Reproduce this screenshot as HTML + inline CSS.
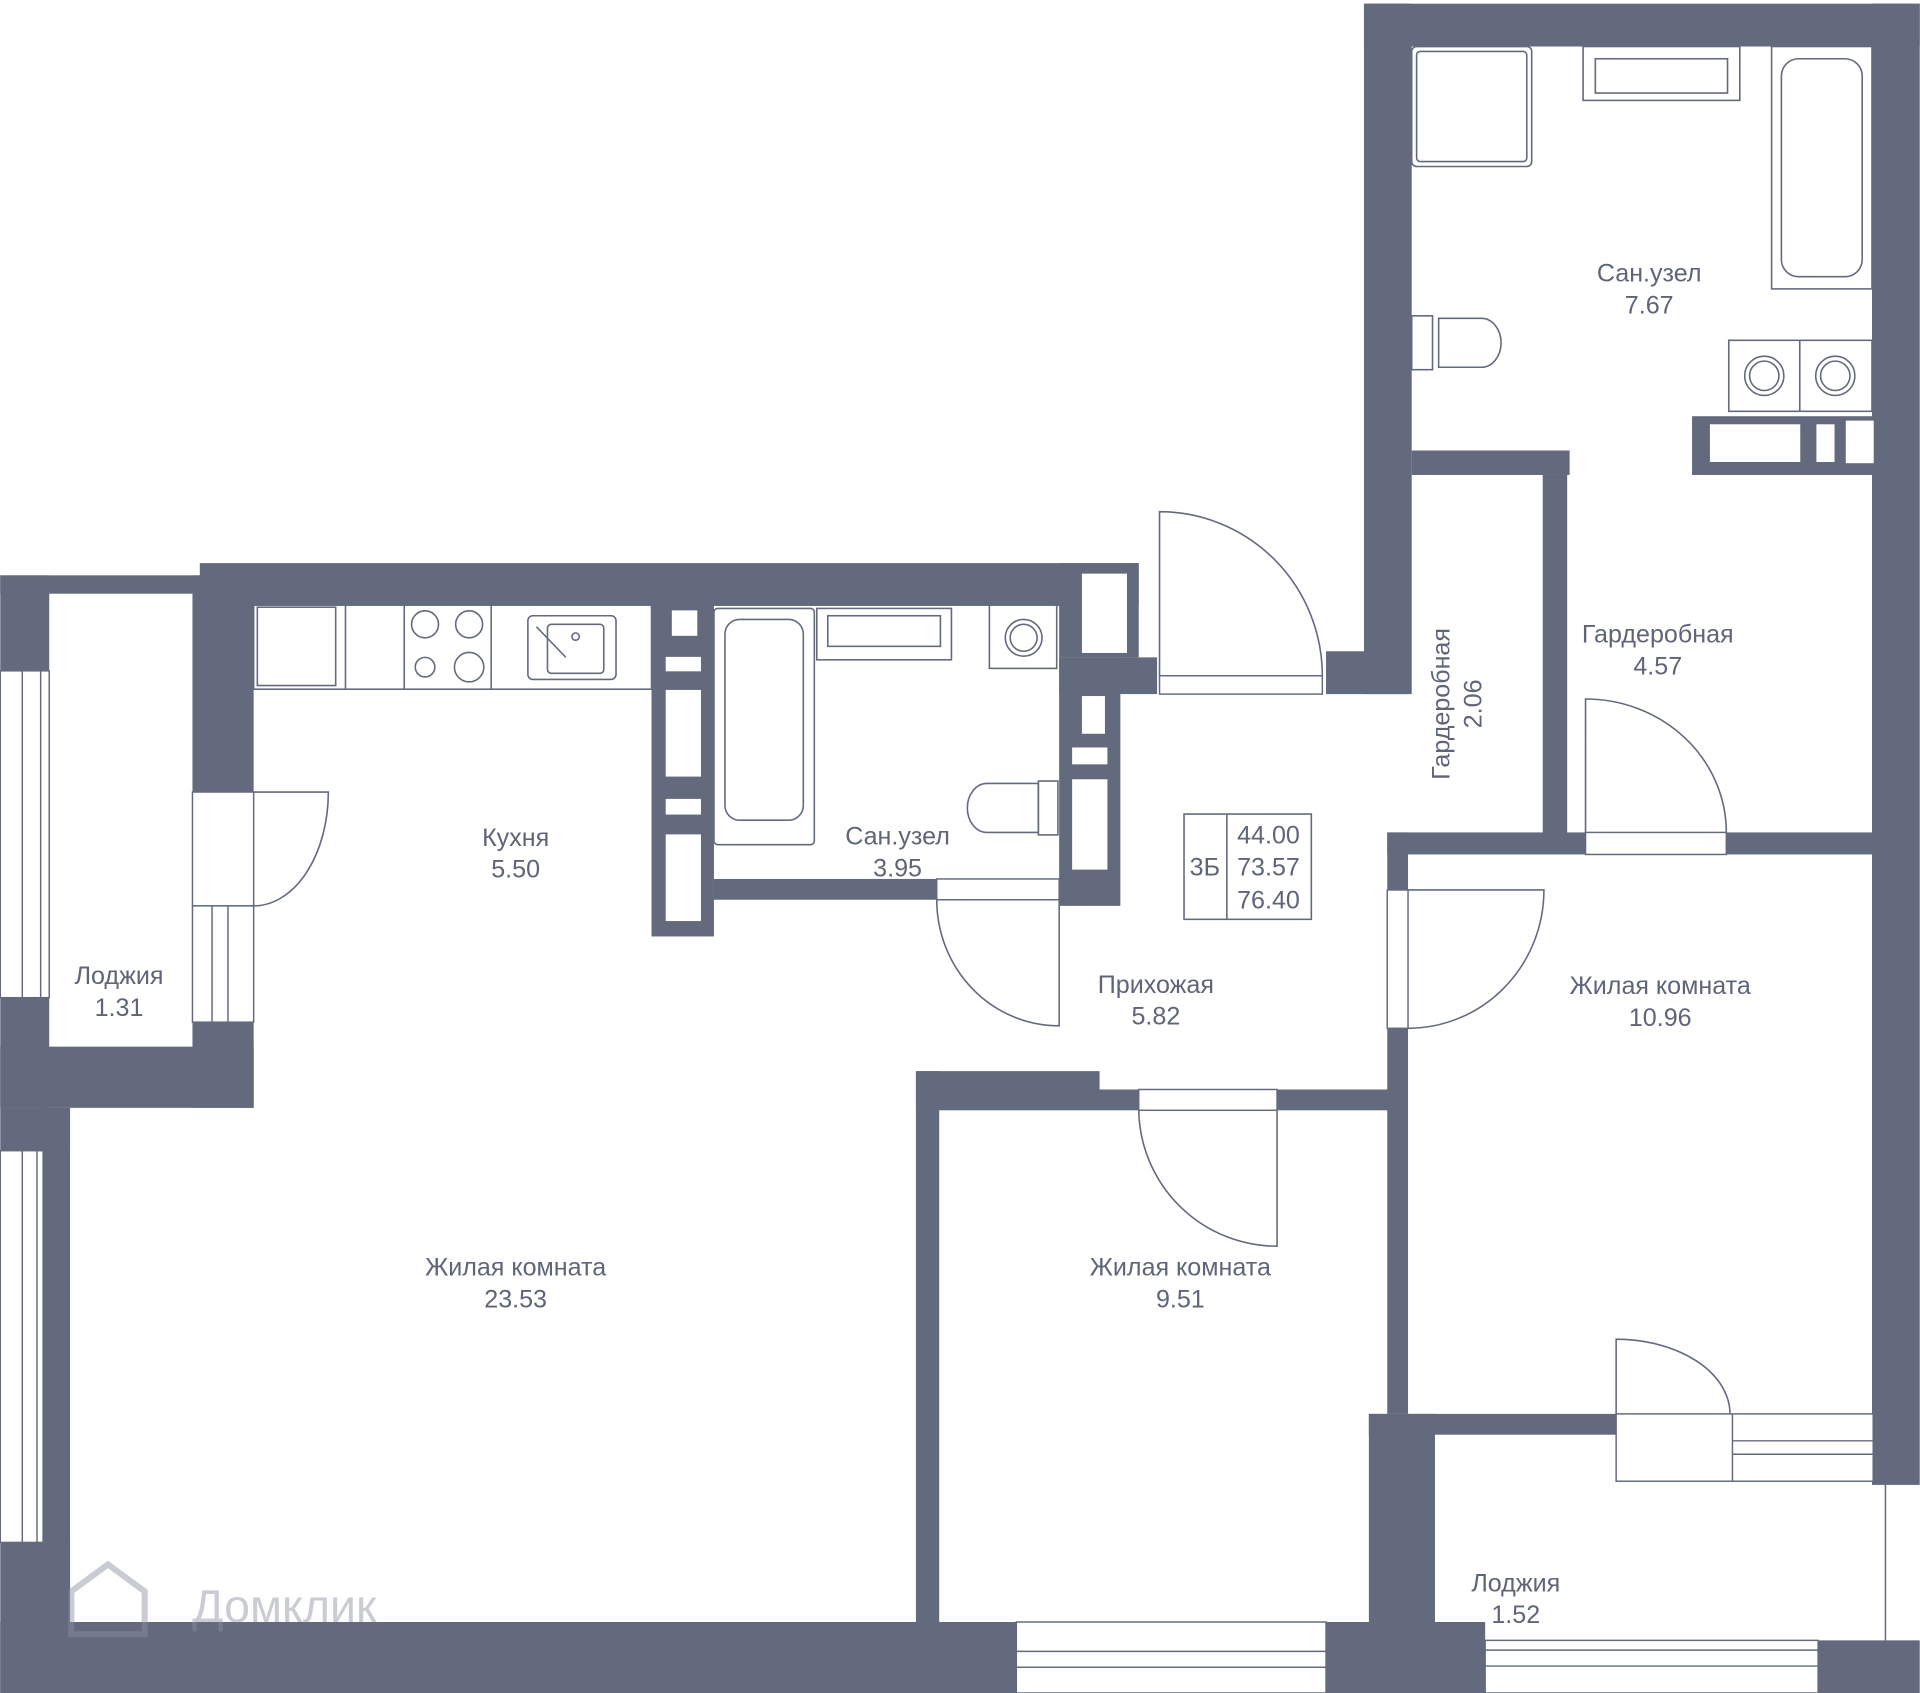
<!DOCTYPE html>
<html><head><meta charset="utf-8"><style>
html,body{margin:0;padding:0;background:#fff}
svg{display:block}
text{font-family:"Liberation Sans","DejaVu Sans",sans-serif;fill:#5f6479;font-size:20.5px;text-anchor:middle}
</style></head><body>
<svg width="1920" height="1693" viewBox="0 0 1568 1383" xmlns="http://www.w3.org/2000/svg">
<g fill="#646a7e">
<rect x="1114" y="3" width="454" height="35"/>
<rect x="1114" y="3" width="39" height="564"/>
<rect x="1083" y="532" width="67" height="35"/>
<rect x="1529" y="3" width="39" height="1210"/>
<rect x="1153" y="368" width="129" height="20"/>
<rect x="1382" y="340" width="147" height="48"/>
<rect x="1260" y="388" width="20" height="297"/>
<rect x="1133" y="680" width="162" height="18"/>
<rect x="1410" y="680" width="119" height="18"/>
<rect x="1133" y="680" width="17" height="47"/>
<rect x="1133" y="840" width="17" height="315"/>
<rect x="1118" y="1155" width="202" height="17"/>
<rect x="1118" y="1155" width="54" height="228"/>
<rect x="1083" y="1325" width="130" height="58"/>
<rect x="1485" y="1340" width="83" height="43"/>
<rect x="748" y="875" width="19" height="460"/>
<rect x="748" y="875" width="150" height="15"/>
<rect x="748" y="890" width="182" height="17"/>
<rect x="1043" y="890" width="95" height="17"/>
<rect x="0" y="1325" width="830" height="58"/>
<rect x="0" y="470" width="163" height="15"/>
<rect x="0" y="470" width="40" height="78"/>
<rect x="0" y="815" width="40" height="90"/>
<rect x="0" y="855" width="207" height="50"/>
<rect x="157" y="470" width="50" height="177"/>
<rect x="157" y="835" width="50" height="70"/>
<rect x="0" y="905" width="57" height="35"/>
<rect x="0" y="1260" width="57" height="123"/>
<rect x="35" y="905" width="22" height="478"/>
<rect x="163" y="460" width="767" height="35"/>
<rect x="532" y="490" width="51" height="275"/>
<rect x="583" y="718" width="282" height="17"/>
<rect x="865" y="537" width="50" height="203"/>
<rect x="865" y="537" width="80" height="30"/>
<rect x="865" y="460" width="65" height="77"/>
</g>
<g fill="#fff" stroke="#646a7e" stroke-width="1.2">
<rect x="548" y="498" width="22" height="22"/>
<rect x="543" y="536" width="30" height="13"/>
<rect x="543" y="563" width="30" height="72"/>
<rect x="543" y="652" width="30" height="14"/>
<rect x="543" y="681" width="30" height="72"/>
<rect x="883" y="468" width="38" height="66"/>
<rect x="883" y="568" width="20" height="32"/>
<rect x="875" y="610" width="30" height="15"/>
<rect x="875" y="636" width="30" height="75"/>
<rect x="1396" y="346" width="75" height="32"/>
<rect x="1483" y="346" width="16" height="32"/>
<rect x="1507" y="343" width="24" height="36"/>
</g>
<g fill="#fff" stroke="#646a7e" stroke-width="1.2">
<rect x="0" y="548" width="40" height="267"/>
<line x1="18" y1="548" x2="18" y2="815"/><line x1="33" y1="548" x2="33" y2="815"/>
<rect x="0" y="940" width="35" height="320"/>
<line x1="18" y1="940" x2="18" y2="1260"/><line x1="30" y1="940" x2="30" y2="1260"/>
<rect x="157" y="647" width="50" height="93"/>
<rect x="157" y="740" width="50" height="95"/>
<line x1="173" y1="740" x2="173" y2="835"/><line x1="186" y1="740" x2="186" y2="835"/>
<rect x="830" y="1325" width="253" height="58"/>
<line x1="830" y1="1349" x2="1083" y2="1349"/><line x1="830" y1="1362" x2="1083" y2="1362"/>
<rect x="1213" y="1340" width="272" height="43"/>
<line x1="1213" y1="1348" x2="1485" y2="1348"/><line x1="1213" y1="1361" x2="1485" y2="1361"/>
<rect x="1320" y="1155" width="210" height="55"/>
<line x1="1415" y1="1155" x2="1415" y2="1210"/>
<line x1="1415" y1="1177" x2="1530" y2="1177"/><line x1="1415" y1="1188" x2="1530" y2="1188"/>
<rect x="1295" y="680" width="115" height="18"/>
<rect x="930" y="890" width="113" height="17"/>
<rect x="947" y="552" width="133" height="15"/>
<rect x="1133" y="727" width="17" height="113"/>
<rect x="765" y="718" width="100" height="17"/>
<line x1="1540" y1="1210" x2="1540" y2="1340"/>
</g>
<g fill="none" stroke="#646a7e" stroke-width="1.3">
<path d="M207 647 H268 A61 93 0 0 1 207 740"/>
<path d="M947 552 V418 A133 134 0 0 1 1080 552"/>
<path d="M1295 680 V571 A115 109 0 0 1 1410 680"/>
<path d="M1150 727 H1261 A111 113 0 0 1 1150 840"/>
<path d="M865 735 V838 A100 103 0 0 1 765 735"/>
<path d="M930 907 A113 113 0 0 0 1043 1018 V907"/>
<path d="M1320 1155 V1094 A93 61 0 0 1 1413 1155"/>
</g>
<g fill="none" stroke="#646a7e" stroke-width="1.3">
<rect x="207" y="493" width="325" height="70"/>
<rect x="210" y="496" width="64" height="64"/>
<line x1="282" y1="493" x2="282" y2="563"/><line x1="330" y1="493" x2="330" y2="563"/><line x1="401" y1="493" x2="401" y2="563"/>
<circle cx="347" cy="510" r="11"/><circle cx="383" cy="510" r="11"/><circle cx="347" cy="545" r="8"/><circle cx="383" cy="545" r="12"/>
<rect x="431" y="503" width="72" height="52" rx="4"/><rect x="447" y="510" width="46" height="40" rx="3"/>
<circle cx="470" cy="520" r="3"/><line x1="438" y1="512" x2="462" y2="537"/>
<rect x="583" y="497" width="82" height="193" rx="3"/><rect x="592" y="506" width="64" height="164" rx="12"/>
<rect x="667" y="497" width="110" height="42"/><rect x="676" y="503" width="92" height="25"/>
<rect x="808" y="494" width="55" height="52"/><circle cx="836" cy="521" r="15"/><circle cx="836" cy="521" r="11"/>
<path d="M848 640 H806 A16 20 0 0 0 806 680 H848 Z"/><rect x="848" y="638" width="16" height="44"/>
<rect x="1153" y="38" width="98" height="98" rx="4"/><rect x="1157" y="42" width="90" height="90" rx="3"/>
<rect x="1293" y="38" width="128" height="44"/><rect x="1303" y="48" width="108" height="28"/>
<rect x="1447" y="38" width="82" height="198"/><rect x="1455" y="48" width="66" height="178" rx="14"/>
<rect x="1153" y="258" width="17" height="44"/><path d="M1175 260 H1210 A16 20 0 0 1 1210 300 H1175 Z"/>
<rect x="1412" y="278" width="117" height="58"/><line x1="1470" y1="278" x2="1470" y2="336"/>
<circle cx="1441" cy="307" r="16"/><circle cx="1441" cy="307" r="12"/><circle cx="1499" cy="307" r="16"/><circle cx="1499" cy="307" r="12"/>
<rect x="967" y="665" width="104" height="86"/><line x1="1002" y1="665" x2="1002" y2="751"/>
</g>
<text x="1347" y="230">Сан.узел</text><text x="1347" y="256">7.67</text>
<text x="1354" y="525">Гардеробная</text><text x="1354" y="551">4.57</text>
<text transform="translate(1184 575) rotate(-90)">Гардеробная</text>
<text transform="translate(1210 575) rotate(-90)">2.06</text>
<text x="421" y="691">Кухня</text><text x="421" y="717">5.50</text>
<text x="733" y="690">Сан.узел</text><text x="733" y="716">3.95</text>
<text x="97" y="804">Лоджия</text><text x="97" y="830">1.31</text>
<text x="944" y="811">Прихожая</text><text x="944" y="837">5.82</text>
<text x="1356" y="812">Жилая комната</text><text x="1356" y="838">10.96</text>
<text x="421" y="1042">Жилая комната</text><text x="421" y="1068">23.53</text>
<text x="964" y="1042">Жилая комната</text><text x="964" y="1068">9.51</text>
<text x="1238" y="1300">Лоджия</text><text x="1238" y="1326">1.52</text>
<text x="984" y="715">3Б</text>
<text x="1036" y="689">44.00</text><text x="1036" y="715">73.57</text><text x="1036" y="742">76.40</text>
<path d="M58 1300 L88 1278 L118 1300 V1335 H58 Z" fill="none" stroke="#8a8fa0" stroke-width="5" opacity=".45"/>
<text x="232" y="1325" style="fill:#8a8fa0;font-size:38px;opacity:.45">Домклик</text>
</svg>
</body></html>
